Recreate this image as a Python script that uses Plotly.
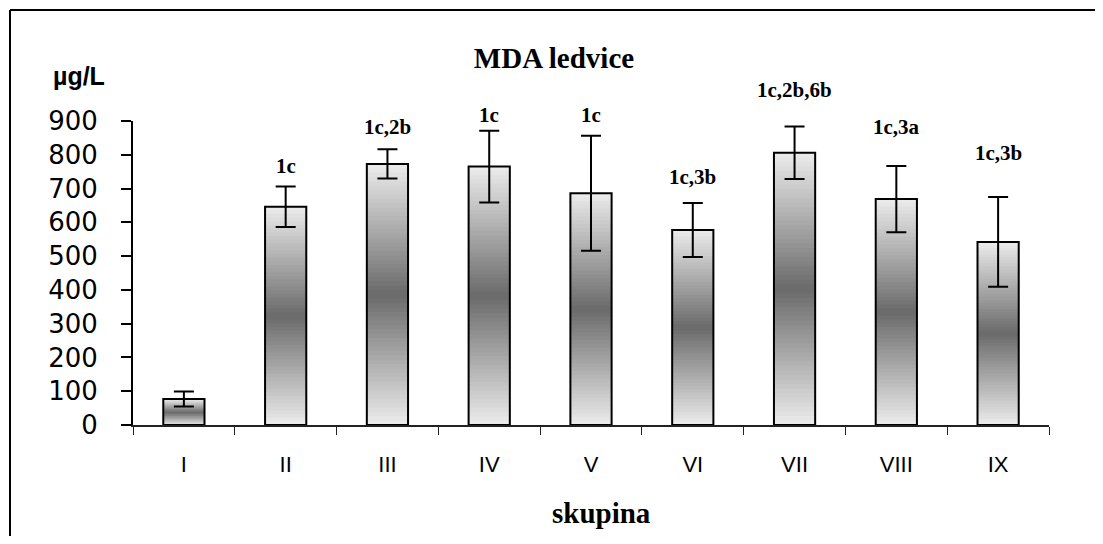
import plotly.graph_objects as go

categories = ["I", "II", "III", "IV", "V", "VI", "VII", "VIII", "IX"]
means = [77, 646, 773, 765, 686, 577, 806, 669, 542]
errors = [22, 60, 43, 106, 170, 80, 78, 98, 133]
labels = ["", "1c", "1c,2b", "1c", "1c", "1c,3b", "1c,2b,6b", "1c,3a", "1c,3b"]
label_y = [0, 768, 881, 918, 918, 733, 993, 883, 805]
y_max = 900

# page has an 8px body margin on every side; keep the figure inside the
# viewport so no scrollbars appear, and shift pixel targets by 8px
OFF = 8
W, H = 1103 - 2 * OFF, 544 - 2 * OFF
L, T = 133 - OFF, 121 - OFF
R = W - (1049 - OFF)
B = H - (425 - OFF)
pw, ph = W - L - R, H - T - B


def px_to_paper(px, py):
    """convert page pixel position to paper coordinates"""
    return (px - OFF - L) / pw, (H - B - (py - OFF)) / ph


N = 60
light, dark = 236, 106

fig = go.Figure()
for k in range(N):
    t = (k + 0.5) / N
    f = 1 - abs(2 * t - 1)
    c = int(round(light - (light - dark) * f))
    col = f"rgb({c},{c},{c})"
    extra = 0.3 if k < N - 1 else 0.0
    fig.add_trace(go.Bar(
        x=categories,
        y=[m * (1 + extra) / N for m in means],
        base=[m * k / N for m in means],
        marker=dict(color=col, line=dict(width=0)),
        hoverinfo="skip", showlegend=False,
    ))

fig.add_trace(go.Bar(
    x=categories, y=means,
    marker=dict(color="rgba(0,0,0,0)", line=dict(color="black", width=2)),
    error_y=dict(type="data", array=errors, visible=True, color="black",
                 thickness=2, width=10),
    showlegend=False,
))

for cat, txt, yy in zip(categories, labels, label_y):
    if txt:
        fig.add_annotation(x=cat, y=yy / y_max, text=f"<b>{txt}</b>", showarrow=False,
                           xref="x", yref="paper", yanchor="middle",
                           font=dict(family="Liberation Serif", size=21, color="black"))

# y-axis unit label
ux, uy = px_to_paper(79, 76)
fig.add_annotation(x=ux, y=uy, xref="paper", yref="paper", text="<b>µg/L</b>",
                   xanchor="center", yanchor="middle", showarrow=False,
                   font=dict(family="Liberation Sans", size=25, color="black"))
# x-axis title
sx, sy = px_to_paper(601, 513)
fig.add_annotation(x=sx, y=sy, xref="paper", yref="paper",
                   text="<b>skupina</b>", showarrow=False, xanchor="center", yanchor="middle",
                   font=dict(family="Liberation Serif", size=29, color="black"))

# outer frame: only its top and left edges fall inside the page
fx0, fy1 = px_to_paper(10, 10)
fx1, fy0 = px_to_paper(1103 + 40, 544 + 40)
fig.add_shape(type="line", xref="paper", yref="paper", x0=fx0, x1=fx1, y0=fy1, y1=fy1,
              line=dict(color="black", width=2), layer="above")
fig.add_shape(type="line", xref="paper", yref="paper", x0=fx0, x1=fx0, y0=fy1, y1=fy0,
              line=dict(color="black", width=2), layer="above")

fig.update_layout(
    width=W, height=H,
    margin=dict(l=L, r=R, t=T, b=B),
    paper_bgcolor="white", plot_bgcolor="white",
    barmode="overlay", bargap=0.595,
    title=dict(text="<b>MDA ledvice</b>", x=(554 - OFF) / W, xref="container", xanchor="center",
               y=1 - (58 - OFF) / H, yref="container", yanchor="middle",
               font=dict(family="Liberation Serif", size=29, color="black")),
    xaxis=dict(showline=True, linecolor="#222", linewidth=1.5, ticks="outside",
               tickson="boundaries", ticklen=8, tickcolor="#222", tickwidth=1,
               showgrid=False, zeroline=False, ticklabelstandoff=19,
               tickfont=dict(family="Liberation Sans", size=22, color="black")),
    yaxis=dict(range=[0, y_max], dtick=100, showline=True, linecolor="black", linewidth=2,
               ticks="outside", ticklen=10, tickcolor="black", tickwidth=1.5,
               showgrid=False, zeroline=False, ticklabelstandoff=18,
               tickfont=dict(family="DejaVu Sans", size=26, color="black")),
)

fig.write_html("out.html", config={"displayModeBar": False})
